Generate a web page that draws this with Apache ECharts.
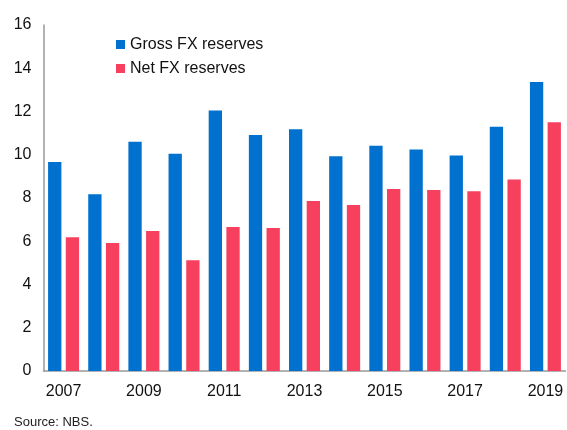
<!DOCTYPE html>
<html>
<head>
<meta charset="utf-8">
<script src="https://cdn.jsdelivr.net/npm/echarts@6/dist/echarts.min.js"></script>
<style>
  html, body { margin: 0; padding: 0; background: #fff; }
  #chart { width: 567px; height: 430px; }
</style>
</head>
<body>
<div id="chart"></div>
<script>
var years = ['2007', '2008', '2009', '2010', '2011', '2012', '2013', '2014', '2015', '2016', '2017', '2018', '2019'];
var grossFx = [9.66, 8.17, 10.60, 10.05, 12.05, 10.91, 11.18, 9.93, 10.42, 10.24, 9.97, 11.30, 13.36];
var netFx = [6.18, 5.92, 6.47, 5.12, 6.66, 6.61, 7.86, 7.68, 8.42, 8.37, 8.31, 8.86, 11.50];

var chart = echarts.init(document.getElementById('chart'));

var option = {
    animation: false,
    textStyle: { fontFamily: 'Liberation Sans, Arial, sans-serif' },
    legend: {
        orient: 'vertical',
        left: 116,
        top: 36.5,
        padding: 0,
        itemWidth: 9,
        itemHeight: 9,
        itemGap: 8,
        icon: 'rect',
        textStyle: { fontSize: 16, color: '#111' },
        data: ['Gross FX reserves', 'Net FX reserves']
    },
    grid: {
        left: 43.5,
        right: 1.5,
        top: 25,
        bottom: 59,
        containLabel: false
    },
    xAxis: {
        type: 'category',
        data: years,
        axisLine: { lineStyle: { color: '#999', width: 1.5 } },
        axisTick: { show: false },
        axisLabel: {
            interval: 1,
            margin: 13,
            fontSize: 16,
            color: '#111'
        }
    },
    yAxis: {
        type: 'value',
        min: 0,
        max: 16,
        interval: 2,
        axisLine: { show: true, lineStyle: { color: '#999', width: 1.5 } },
        axisTick: { show: false },
        splitLine: { show: false },
        axisLabel: {
            margin: 12,
            fontSize: 16,
            color: '#111'
        }
    },
    series: [
        {
            name: 'Gross FX reserves',
            type: 'bar',
            data: grossFx,
            barWidth: 13.3,
            barGap: '33%',
            itemStyle: { color: '#0071CE' }
        },
        {
            name: 'Net FX reserves',
            type: 'bar',
            data: netFx,
            barWidth: 13.3,
            barGap: '33%',
            itemStyle: { color: '#F6405E' }
        }
    ],
    graphic: [{
        type: 'text',
        left: 14,
        top: 415.5,
        style: {
            text: 'Source: NBS.',
            fontSize: 13,
            fill: '#222',
            fontFamily: 'Liberation Sans, Arial, sans-serif'
        }
    }]
};

chart.setOption(option);
</script>
</body>
</html>
